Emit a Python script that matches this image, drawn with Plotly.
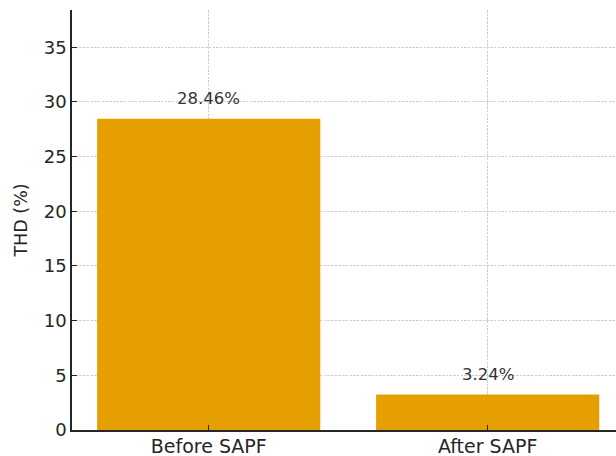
import plotly.graph_objects as go

# THD comparison before and after the shunt active power filter
categories = ["Before SAPF", "After SAPF"]
thd_values = [28.46, 3.24]
y_ticks = [0, 5, 10, 15, 20, 25, 30, 35]

bar_color = "#E69F00"
text_color = "#262626"
grid_color = "#CFCFCF"

fig = go.Figure()
fig.add_trace(go.Bar(
    x=[0, 1],
    y=thd_values,
    width=0.8,
    marker=dict(color=bar_color, line=dict(width=0)),
    hoverinfo="skip",
))

for i, v in enumerate(thd_values):
    fig.add_annotation(
        x=i, y=v, text=f"{v:.2f}%",
        showarrow=False, yanchor="bottom", yshift=9,
        font=dict(family="DejaVu Sans", size=16.5, color="#333333"),
    )

fig.update_layout(
    width=616, height=456,
    margin=dict(l=72, r=0, t=10, b=26),
    paper_bgcolor="white", plot_bgcolor="white",
    showlegend=False,
    font=dict(family="DejaVu Sans", size=18, color=text_color),
    bargap=0.2,
)

fig.update_xaxes(
    range=[-0.49, 1.46],
    tickmode="array", tickvals=[0, 1], ticktext=categories,
    showline=True, linecolor=text_color, linewidth=1.5,
    ticks="inside", ticklen=5, tickwidth=1.2, tickcolor=text_color,
    showgrid=True, gridcolor=grid_color, griddash="2.5px,1.2px", gridwidth=1,
    zeroline=False,
    tickfont=dict(size=19),
    ticklabelstandoff=-2,
)

fig.update_yaxes(
    range=[0, 38.4],
    tickmode="array", tickvals=y_ticks,
    showline=True, linecolor=text_color, linewidth=1.5,
    ticks="inside", ticklen=5, tickwidth=1.2, tickcolor=text_color,
    showgrid=True, gridcolor=grid_color, griddash="2.5px,1.2px", gridwidth=1,
    zeroline=False,
    tickfont=dict(size=18),
    title=dict(text="THD (%)", font=dict(size=17.5), standoff=12),
)

fig.write_html("out.html")
